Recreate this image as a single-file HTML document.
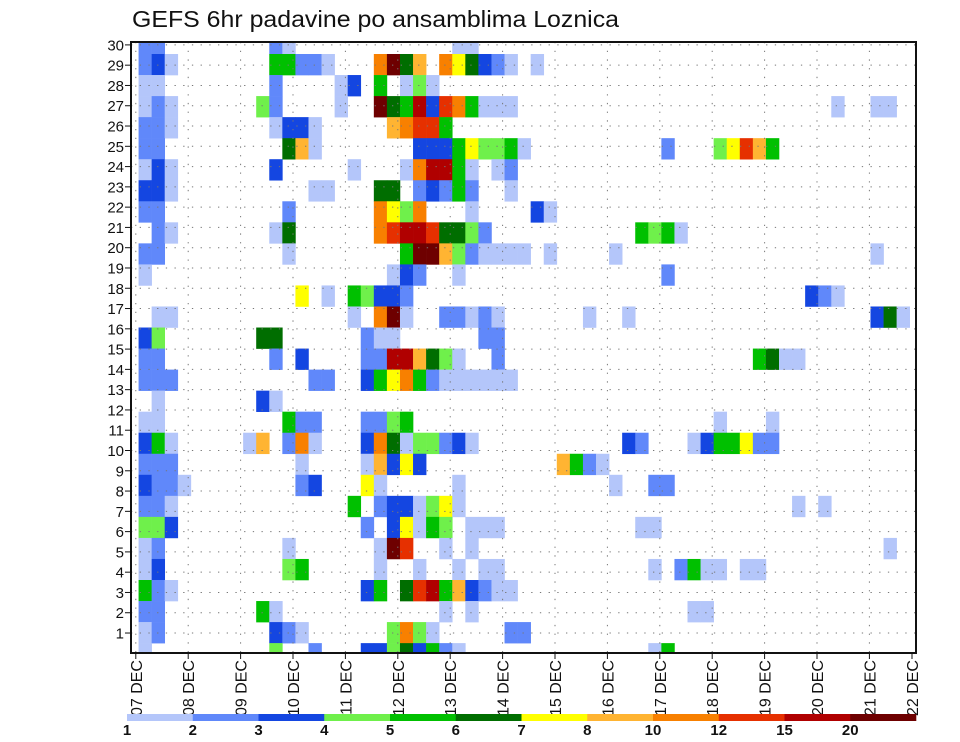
<!DOCTYPE html>
<html><head><meta charset="utf-8"><style>
html,body{margin:0;padding:0;background:#fff;}
svg{display:block;font-family:"Liberation Sans",sans-serif;}
</style></head><body>
<svg id="s" width="960" height="742" viewBox="0 0 960 742" xmlns="http://www.w3.org/2000/svg">
<rect width="960" height="742" fill="#fff"/>
<text x="132" y="27" font-size="23" textLength="487" lengthAdjust="spacingAndGlyphs" fill="#111">GEFS 6hr padavine po ansamblima Loznica</text>
<defs><clipPath id="cp"><rect x="131" y="42" width="785" height="611"/></clipPath></defs>
<g id="cells" clip-path="url(#cp)"></g>
<g id="grid"></g>
<rect x="131" y="42" width="785" height="611" fill="none" stroke="#111" stroke-width="2"/>
<g id="axes" font-size="15" fill="#111"></g>
<g id="cbar"></g>
</svg>
<script>
var C={a:"#b4c6fa",b:"#6088fa",c:"#1446e1",d:"#6ff04b",e:"#00c000",f:"#006e00",g:"#ffff00",h:"#ffb432",i:"#f88000",j:"#e63000",k:"#b00000",l:"#6e0000"};
var R=[
"1:bb 11:ba 25:aa",
"1:bca 11:eebba 19:ilfh 24:igfcba 31:a",
"1:aa 11:b 16:ac 19:e 21:ada",
"1:aba 10:db 16:a 19:lfekcjie 27:aaa 54:a 57:aa",
"1:bba 11:acca 20:hijje",
"1:bb 12:fha 22:ccc 25:egdde 30:a 41:b 45:dgjhe",
"1:aca 11:c 17:a 21:aikk 25:ea 28:ab",
"1:cca 14:aa 19:ff 22:bcbeb 29:a",
"1:bb 12:b 19:igdi 26:a 31:ca",
"2:ba 11:af 19:ijkkjffdb 39:edea",
"1:bb 12:a 21:ellhdb 27:aaaa 32:a 37:a 57:a",
"1:a 20:acb 25:a 41:b",
"13:g 15:a 17:edccb 52:cba",
"2:aa 17:a 19:ila 24:bbaba 35:a 38:a 57:cfa",
"1:cd 10:ff 18:baa 27:bb",
"1:bb 11:b 13:c 18:bbkkhfda 28:b 48:efaa",
"1:bbb 14:bb 18:cegieb 24:aaaaaa",
"2:a 10:ca",
"1:aa 12:ebb 18:bbde 45:a 49:a",
"1:cea 9:ah 12:bia 18:cifadd 24:bca 38:cb 43:aceegbb",
"1:bbb 13:a 18:ahcgc 33:heba",
"1:cbba 13:bc 18:ga 25:a 37:a 40:bb",
"1:bba 17:e 19:bccadga 51:a 53:a",
"1:ddc 18:b 20:cgaed 26:aaa 39:aa",
"1:ab 12:a 19:alj 24:a 26:a 58:a",
"1:ac 12:de 19:a 22:a 25:a 27:aa 40:a 42:beaa 47:aa",
"1:eba 18:ce 21:fjkehcbaa",
"1:bb 10:ea 24:a 26:a 43:aa",
"1:ab 11:cba 20:dida 29:bb",
"1:a 11:d 14:b 18:ccdfceba 40:ae"
];
var NS="http://www.w3.org/2000/svg";
function el(t,a,p,txt){var e=document.createElementNS(NS,t);for(var k in a)e.setAttribute(k,a[k]);if(txt!=null)e.textContent=txt;p.appendChild(e);return e;}
var cells=document.getElementById("cells");
var CW=13.07,X0=125.5,H=21.04;
for(var k=0;k<R.length;k++){
 var y0,y1;
 if(k==0){y0=33;y1=54;}else{y0=54+(k-1)*H;y1=y0+H;}
 R[k].split(" ").forEach(function(seg){
  var p=seg.split(":"),c=+p[0],s=p[1];
  for(var i=0;i<s.length;i++){
   el("rect",{x:(X0+CW*(c+i)).toFixed(2),y:y0.toFixed(2),width:(CW+0.3).toFixed(2),height:(y1-y0+0.3).toFixed(2),fill:C[s[i]]},cells);
  }
 });
}
var grid=document.getElementById("grid"),ax=document.getElementById("axes");
function ly(r){return 653.3-20.28*r;}
for(var r=1;r<=30;r++){
 var y=ly(r);
 el("line",{x1:131,x2:916,y1:y,y2:y,stroke:"#777","stroke-width":1,"stroke-dasharray":"1.3 7.4"},grid);
 el("line",{x1:125,x2:131,y1:y,y2:y,stroke:"#111","stroke-width":1},ax);
 el("text",{x:124,y:y+5.5,"text-anchor":"end","font-size":"15"},ax,String(r));
}
var days=["07","08","09","10","11","12","13","14","15","16","17","18","19","20","21","22"];
for(var d=0;d<16;d++){
 var x=135.8+52.4*d;
 if(d<15) el("line",{x1:x,x2:x,y1:42,y2:653,stroke:"#777","stroke-width":1,"stroke-dasharray":"1.3 7.4"},grid);
 var xl=Math.min(x,912);
 el("line",{x1:xl,x2:xl,y1:653,y2:659,stroke:"#111","stroke-width":1},ax);
 el("text",{x:0,y:0,"text-anchor":"end","font-size":"16",transform:"translate("+(xl+6)+",660) rotate(-90)"},ax,days[d]+" DEC");
}
var cb=document.getElementById("cbar");
var keys="abcdefghijkl",labs=["1","2","3","4","5","6","7","8","10","12","15","20"];
var bw=(916-127)/12;
for(var i=0;i<12;i++){
 el("rect",{x:127+bw*i,y:714,width:bw+0.3,height:7,fill:C[keys[i]]},cb);
 el("text",{x:127+bw*i,y:735,"text-anchor":"middle","font-size":"15","font-weight":"bold",fill:"#111"},cb,labs[i]);
}
</script>
</body></html>
